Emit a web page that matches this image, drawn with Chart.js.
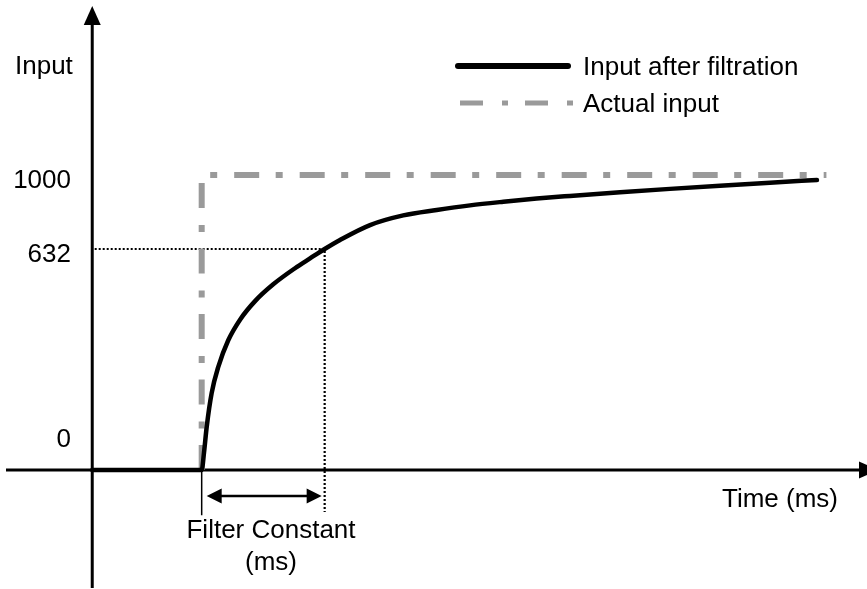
<!DOCTYPE html>
<html>
<head>
<meta charset="utf-8">
<title>Input filter response</title>
<script src="https://cdn.jsdelivr.net/npm/chart.js@4.4.1/dist/chart.umd.min.js"></script>
<style>
    html, body { margin: 0; padding: 0; background: #fff; }
    #wrap { position: relative; width: 867px; height: 589px; }
</style>
</head>
<body>
<div id="wrap"><canvas id="filterChart"></canvas></div>
<script>
// filtered input (time in ms)
var curveTime  = [0, 89, 90.9, 93.1, 97.1, 102.5, 110.6, 120.2, 132.4, 147.2, 164.9, 177.1, 189, 201.5, 225.9, 252.9, 280.1, 307.2, 334.3, 361.4, 388.5, 429.2, 469.8, 510.5, 551.1, 589.3];
var curveInput = [0, 0, 50, 124, 220, 295, 371, 430, 483, 531, 577, 605, 632, 677, 751, 799, 826, 849, 867, 883, 896, 914, 931, 947, 962, 975];

// actual input: a step up to 1000
var stepTime  = [89, 89, 597];
var stepInput = [0, 1000, 1000];

var yTickValues = [0, 632, 1000];
var stepStart = 89;
var filterConstant = 100;
var filterLevel = 632;

var seriesLabels = ['Input after filtration', 'Actual input'];

// the value axis is drawn schematic: each band between breaks gets its own share of the height
var axisBreaks = [-340, 0, 632, 1000, 1870];
var axisShares = [0, 0.20204, 0.57725, 0.70289, 1];

function warpValue(v) {
    var n = axisBreaks.length;
    for (var i = 1; i < n; i++) {
        if (v <= axisBreaks[i] || i === n - 1) {
            var a = axisBreaks[i - 1], b = axisBreaks[i];
            return axisShares[i - 1] + (v - a) / (b - a) * (axisShares[i] - axisShares[i - 1]);
        }
    }
}

function unwarpDecimal(d) {
    var n = axisShares.length;
    for (var i = 1; i < n; i++) {
        if (d <= axisShares[i] || i === n - 1) {
            var a = axisShares[i - 1], b = axisShares[i];
            return axisBreaks[i - 1] + (d - a) / (b - a) * (axisBreaks[i] - axisBreaks[i - 1]);
        }
    }
}

class WarpedScale extends Chart.LinearScale {
    getPixelForValue(value) {
        if (value === null || value === undefined) return NaN;
        return this.getPixelForDecimal(warpValue(value));
    }
    getValueForPixel(pixel) {
        return unwarpDecimal(this.getDecimalForPixel(pixel));
    }
}
WarpedScale.id = 'warped';
WarpedScale.defaults = Chart.LinearScale.defaults;
Chart.register(WarpedScale);

function toPoints(xs, ys) {
    return xs.map(function (x, i) { return { x: x, y: ys[i] }; });
}

var FONT = "26px 'Liberation Sans', Arial, sans-serif";
var GREY = '#9a9a9a';

// axes with arrow heads, labels and the legend are painted by hand
var sketchPlugin = {
    id: 'sketch',
    beforeDatasetsDraw: function (chart) {
        var ctx = chart.ctx;
        var xs = chart.scales.x, ys = chart.scales.y;
        var x0 = xs.getPixelForValue(0), y0 = ys.getPixelForValue(0);
        ctx.save();
        ctx.strokeStyle = '#000';
        ctx.fillStyle = '#000';
        ctx.lineWidth = 3;
        ctx.beginPath();
        ctx.moveTo(x0, 588);
        ctx.lineTo(x0, 20);
        ctx.moveTo(6, y0);
        ctx.lineTo(862, y0);
        ctx.stroke();

        ctx.beginPath();
        ctx.moveTo(x0, 6);
        ctx.lineTo(x0 - 8.5, 25);
        ctx.lineTo(x0 + 8.5, 25);
        ctx.closePath();
        ctx.fill();

        ctx.beginPath();
        ctx.moveTo(878, y0);
        ctx.lineTo(859, y0 - 8.5);
        ctx.lineTo(859, y0 + 8.5);
        ctx.closePath();
        ctx.fill();
        ctx.restore();
    },
    afterDraw: function (chart) {
        var ctx = chart.ctx;
        var xs = chart.scales.x, ys = chart.scales.y;
        var sets = chart.data.datasets;
        ctx.save();
        ctx.fillStyle = '#000';
        ctx.font = FONT;
        ctx.textBaseline = 'alphabetic';

        // double arrow spanning the filter constant
        var ya = ys.getPixelForValue(-74);
        var xa = xs.getPixelForValue(stepStart) + 5;
        var xb = xs.getPixelForValue(stepStart + filterConstant) - 3;
        ctx.strokeStyle = '#000';
        ctx.lineWidth = 2.5;
        ctx.beginPath();
        ctx.moveTo(xa + 10, ya);
        ctx.lineTo(xb - 10, ya);
        ctx.stroke();
        ctx.beginPath();
        ctx.moveTo(xa, ya);
        ctx.lineTo(xa + 15, ya - 7.5);
        ctx.lineTo(xa + 15, ya + 7.5);
        ctx.closePath();
        ctx.moveTo(xb, ya);
        ctx.lineTo(xb - 15, ya - 7.5);
        ctx.lineTo(xb - 15, ya + 7.5);
        ctx.closePath();
        ctx.fill();

        // value labels
        ctx.textAlign = 'right';
        yTickValues.forEach(function (v) {
            var py = ys.getPixelForValue(v);
            ctx.fillText(String(v), 71, v === 0 ? py - 23 : py + 13);
        });

        ctx.textAlign = 'left';
        ctx.fillText('Input', 15, 74);
        ctx.fillText('Time (ms)', 722, 507);

        ctx.textAlign = 'center';
        ctx.fillText('Filter Constant', 271, 538);
        ctx.fillText('(ms)', 271, 570);

        // legend
        var rows = [{ y: 66, x1: 458, x2: 568, dash: [], width: 6 },
                    { y: 103, x1: 460, x2: 573, dash: [23, 19, 6, 17], width: 5 }];
        rows.forEach(function (r, i) {
            ctx.save();
            ctx.strokeStyle = sets[i].borderColor;
            ctx.lineWidth = r.width;
            ctx.lineCap = i === 0 ? 'round' : 'butt';
            ctx.setLineDash(r.dash);
            ctx.beginPath();
            ctx.moveTo(r.x1, r.y);
            ctx.lineTo(r.x2, r.y);
            ctx.stroke();
            ctx.restore();
            ctx.textAlign = 'left';
            ctx.fillText(sets[i].label, 583, r.y + 9);
        });
        ctx.restore();
    }
};

var lineBase = { pointRadius: 0, pointHoverRadius: 0, fill: false };

var chart = new Chart(document.getElementById('filterChart').getContext('2d'), {
    type: 'line',
    data: {
        datasets: [
            Object.assign({}, lineBase, {
                label: seriesLabels[0],
                data: toPoints(curveTime, curveInput),
                borderColor: '#000',
                borderWidth: 4.5,
                borderJoinStyle: 'round',
                borderCapStyle: 'round',
                cubicInterpolationMode: 'monotone',
                order: 0
            }),
            Object.assign({}, lineBase, {
                label: seriesLabels[1],
                data: toPoints(stepTime, stepInput),
                borderColor: GREY,
                borderWidth: 6,
                borderDash: [25, 16.5, 7, 17],
                borderCapStyle: 'butt',
                borderJoinStyle: 'miter',
                tension: 0,
                order: 1
            }),
            Object.assign({}, lineBase, {
                label: 'level',
                data: [{ x: 2, y: filterLevel }, { x: stepStart + filterConstant, y: filterLevel },
                       { x: stepStart + filterConstant, y: -120 }],
                borderColor: '#000',
                borderWidth: 2.2,
                borderDash: [2, 2],
                tension: 0,
                order: 2
            }),
            Object.assign({}, lineBase, {
                label: 'start',
                data: [{ x: stepStart, y: 0 }, { x: stepStart, y: -129 }],
                borderColor: '#000',
                borderWidth: 1.5,
                tension: 0,
                order: 2
            })
        ]
    },
    options: {
        responsive: true,
        maintainAspectRatio: false,
        animation: false,
        events: [],
        layout: { padding: 0 },
        scales: {
            x: { type: 'linear', min: -75, max: 630, display: false },
            y: { type: 'warped', min: -340, max: 1870, display: false }
        },
        plugins: {
            legend: { display: false },
            tooltip: { enabled: false }
        }
    },
    plugins: [sketchPlugin]
});
</script>
</body>
</html>
